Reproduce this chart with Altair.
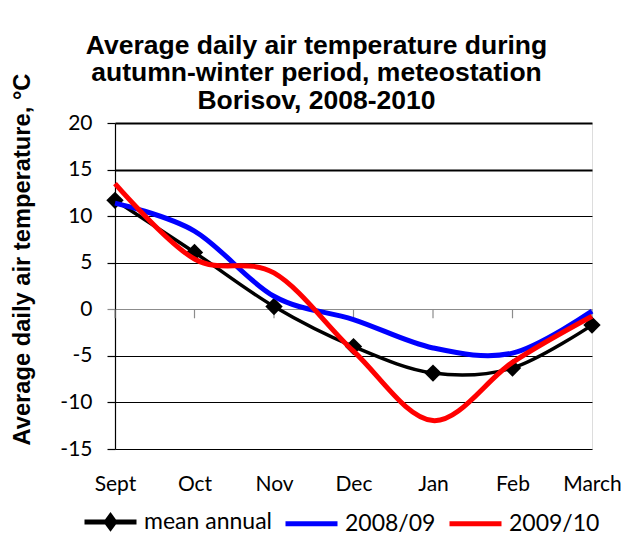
import altair as alt
import pandas as pd

months = ["Sept", "Oct", "Nov", "Dec", "Jan", "Feb", "March"]
series_names = ["mean annual", "2008/09", "2009/10"]
mean_annual = [11.7, 6.1, 0.3, -4.0, -6.85, -6.3, -1.7]
t_2008_09 = [11.4, 8.4, 1.4, -1.1, -4.15, -4.7, -0.2]
t_2009_10 = [13.5, 5.4, 3.9, -4.5, -11.95, -5.7, -0.75]
y_ticks = [-15, -10, -5, 0, 5, 10, 15, 20]
colors = ["#000000", "#0000ff", "#ff0000"]
legend_shapes = [
    "M-1,0H1M0,-0.22L0.16,0L0,0.22L-0.16,0Z",
    "M-1,0H1",
    "M-1,0H1",
]

rows = []
for name, vals in zip(series_names, [mean_annual, t_2008_09, t_2009_10]):
    for m, v in zip(months, vals):
        rows.append({"month": m, "series": name, "temp": v})
df = pd.DataFrame(rows)
months_df = pd.DataFrame({"month": months})

GRAY = "#8c8c8c"

x_enc = alt.X(
    "month:N",
    sort=months,
    scale=alt.Scale(type="point", padding=0, domain=months),
    axis=alt.Axis(
        title=None, labelAngle=0, domain=False, ticks=False, tickSize=0,
        grid=False, labelFont="Lato", labelFontSize=21, labelColor="black",
        labelPadding=24, labelBaseline="top",
    ),
)

y_scale = alt.Scale(domain=[-15, 20], nice=False, zero=False)
y_axis = alt.Axis(
    title="Average daily air temperature, °C",
    values=y_ticks,
    labelExpr="'' + datum.value",
    grid=True,
    gridColor={"condition": {"test": "datum.value === 0", "value": GRAY}, "value": "black"},
    gridWidth={"condition": {"test": "datum.value >= 15", "value": 2}, "value": 1.2},
    tickColor={"condition": {"test": "datum.value === 0", "value": GRAY}, "value": "black"},
    ticks=True,
    tickSize=8,
    tickWidth=1.2,
    domainColor="black",
    domainWidth=1.2,
    labelFont="Lato",
    labelFontSize=21,
    labelColor="black",
    labelAlign="right",
    labelPadding=15,
    titleFont="Liberation Sans",
    titleFontWeight="bold",
    titleFontSize=23.7,
    titleColor="black",
    titleAngle=270,
    titleAlign="center",
    titleBaseline="middle",
    titleX=-93,
    titleY=136,
)

color_scale = alt.Scale(domain=series_names, range=colors)
legend_def = alt.Legend(
    title=None, orient="none", legendX=-33, legendY=370,
    direction="horizontal", symbolSize=2704, symbolStrokeWidth=5,
    symbolOpacity=1, labelFont="Lato", labelFontSize=23,
    labelColor="black", labelOffset=5, columnPadding=3,
)

base = alt.Chart(df)

legend_layer = base.transform_filter("false").mark_point(filled=False, strokeWidth=5).encode(
    x=x_enc,
    y=alt.Y("temp:Q", scale=y_scale, axis=y_axis),
    color=alt.Color("series:N", scale=color_scale, legend=legend_def),
    shape=alt.Shape(
        "series:N",
        scale=alt.Scale(domain=series_names, range=legend_shapes),
        legend=legend_def,
    ),
)

zero_ticks = alt.Chart(months_df).mark_rule(color=GRAY, strokeWidth=1.2, y2Offset=9).encode(
    x=x_enc,
    y=alt.Y(datum=0, scale=y_scale, axis=y_axis),
    y2=alt.datum(0),
)

mean_line = base.transform_filter(alt.datum.series == "mean annual").mark_line(
    interpolate="cardinal", strokeWidth=3.5
).encode(
    x=x_enc,
    y=alt.Y("temp:Q", scale=y_scale, axis=y_axis),
    color=alt.Color("series:N", scale=color_scale, legend=None),
)

mean_points = base.transform_filter(alt.datum.series == "mean annual").mark_point(
    shape="diamond", filled=True, size=300, opacity=1
).encode(
    x=x_enc,
    y=alt.Y("temp:Q", scale=y_scale),
    color=alt.Color("series:N", scale=color_scale, legend=None),
)

year_lines = base.transform_filter(alt.datum.series != "mean annual").mark_line(
    interpolate="cardinal", strokeWidth=5
).encode(
    x=x_enc,
    y=alt.Y("temp:Q", scale=y_scale),
    color=alt.Color("series:N", scale=color_scale, legend=None),
)

chart = alt.layer(
    legend_layer, zero_ticks, mean_line, mean_points, year_lines
).properties(
    width=477,
    height=326,
    autosize=alt.AutoSizeParams(type="none"),
    padding={"left": 107, "top": 115, "right": 38, "bottom": 88},
    title=alt.Title(
        text=["Average daily air temperature during",
              "autumn-winter period, meteostation",
              "Borisov, 2008-2010"],
        font="Liberation Sans",
        fontWeight="bold",
        fontSize=26.5,
        lineHeight=27.5,
        color="black",
        anchor="middle",
        baseline="bottom",
        offset=7,
        dx=-37,
        dy=75,
    ),
).configure_view(stroke=None).configure(background="white")

chart.save("out.html", embed_options={"renderer": "svg", "actions": False})
